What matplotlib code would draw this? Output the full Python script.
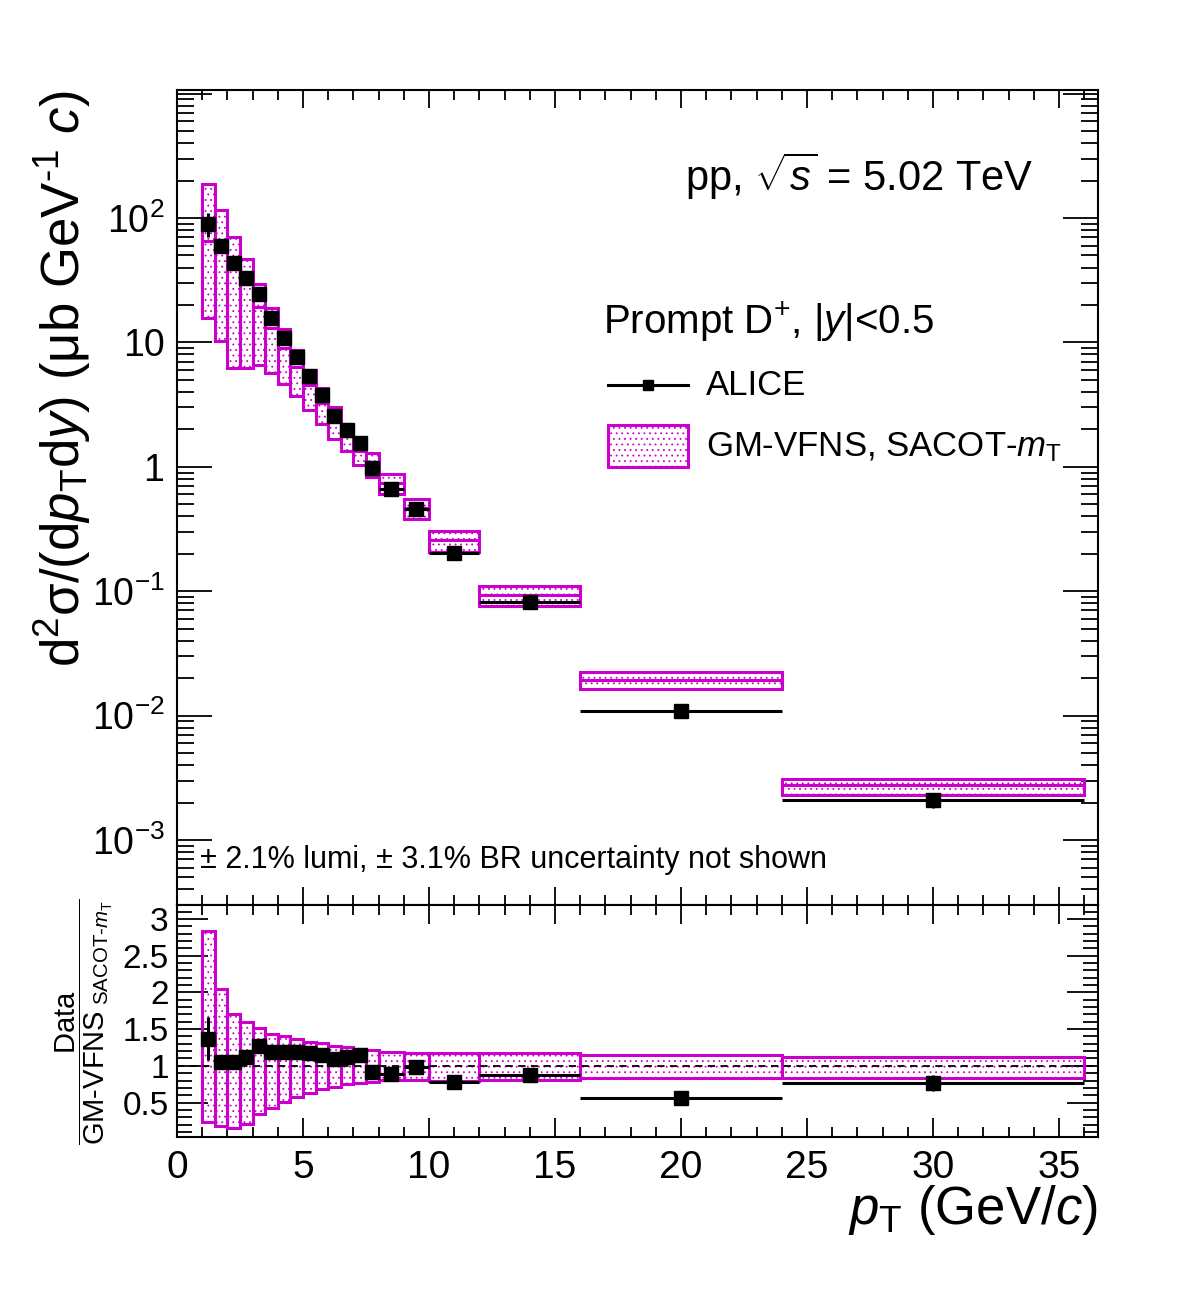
import matplotlib
matplotlib.use('Agg')  # no display
import numpy as np
import matplotlib.pyplot as plt
from matplotlib.ticker import FixedLocator, FixedFormatter, MultipleLocator, LogLocator, NullFormatter
from matplotlib.patches import Rectangle

# pT bins (GeV/c)
pt_lo = [1, 1.5, 2, 2.5, 3, 3.5, 4, 4.5, 5, 5.5, 6, 6.5, 7, 7.5, 8, 9, 10, 12, 16, 24]
pt_hi = [1.5, 2, 2.5, 3, 3.5, 4, 4.5, 5, 5.5, 6, 6.5, 7, 7.5, 8, 9, 10, 12, 16, 24, 36]

# ALICE prompt D+ cross section (ub GeV^-1 c) and stat. errors
alice_xsec = [90, 60, 43.7, 33, 24.5, 15.6, 10.8, 7.6, 5.37, 3.76, 2.58, 1.99, 1.55,
              0.98, 0.66, 0.458, 0.203, 0.0819, 0.0109, 0.0021]
alice_stat = [19, 3, 2, 1.5, 1.1, 0.7, 0.45, 0.3, 0.2, 0.14, 0.1, 0.08, 0.06,
              0.05, 0.03, 0.02, 0.009, 0.004, 0.0006, 0.0003]

# GM-VFNS (SACOT-mT) central value and relative band (upper / lower)
gmvfns_central = [65.7, 57, 41.6, 29.5, 19.3, 13.1, 9.1, 6.4, 4.55, 3.27, 2.37, 1.78, 1.35,
                  1.065, 0.74, 0.467, 0.26, 0.094, 0.0195, 0.00276]
gmvfns_rel_up = [2.84, 2.04, 1.70, 1.59, 1.52, 1.44, 1.40, 1.37, 1.33, 1.31, 1.27, 1.25, 1.23,
                 1.21, 1.19, 1.18, 1.18, 1.17, 1.15, 1.12]
gmvfns_rel_lo = [0.24, 0.18, 0.15, 0.21, 0.34, 0.43, 0.51, 0.58, 0.63, 0.68, 0.71, 0.75, 0.77,
                 0.78, 0.81, 0.81, 0.80, 0.81, 0.84, 0.84]

# tick labels
x_ticks = [0, 5, 10, 15, 20, 25, 30, 35]
y_ticks = [1e-3, 1e-2, 1e-1, 1, 10, 100, 1000]
y_tick_labels = [r'$10^{-3}$', r'$10^{-2}$', r'$10^{-1}$', '1', '10', r'$10^{2}$', '']
ratio_ticks = [0.5, 1, 1.5, 2, 2.5, 3]
ratio_tick_labels = ['0.5', '1', '1.5', '2', '2.5', '3']

magenta = '#cc00cc'

plt.rcParams['font.family'] = ['Liberation Sans', 'DejaVu Sans']
plt.rcParams['mathtext.fontset'] = 'custom'
plt.rcParams['mathtext.rm'] = 'Liberation Sans'
plt.rcParams['mathtext.it'] = 'Liberation Sans:italic'
plt.rcParams['mathtext.bf'] = 'Liberation Sans:bold'
plt.rcParams['hatch.linewidth'] = 0.6
plt.rcParams['axes.linewidth'] = 1.5

lo = np.array(pt_lo)
hi = np.array(pt_hi)
ctr = 0.5 * (lo + hi)
wid = hi - lo
data = np.array(alice_xsec)
stat = np.array(alice_stat)
th = np.array(gmvfns_central)
rup = np.array(gmvfns_rel_up)
rlo = np.array(gmvfns_rel_lo)

fig = plt.figure(figsize=(11.82, 12.94), dpi=100)
ax = fig.add_axes([0.1497, 0.3006, 0.7792, 0.6298])
axr = fig.add_axes([0.1497, 0.1213, 0.7792, 0.1793])

# --- upper panel: cross section ---
ax.bar(lo, th * rup - th * rlo, bottom=th * rlo, width=wid, align='edge',
       facecolor='none', edgecolor=magenta, hatch='...', linewidth=2.2, zorder=2)
ax.hlines(th, lo, hi, color=magenta, lw=2.2, zorder=2)
ax.errorbar(ctr, data, xerr=wid / 2, yerr=stat, fmt='s', color='k', ms=10,
            lw=2.2, capsize=0, zorder=4)

ax.set_yscale('log')
ax.set_xlim(0, 36.55)
ax.set_ylim(3.0e-4, 1069)
ax.yaxis.set_major_locator(FixedLocator(y_ticks))
ax.yaxis.set_major_formatter(FixedFormatter(y_tick_labels))
ax.yaxis.set_minor_locator(LogLocator(base=10, subs=np.arange(2, 10), numticks=30))
ax.yaxis.set_minor_formatter(NullFormatter())
ax.xaxis.set_major_locator(FixedLocator(x_ticks))
ax.xaxis.set_minor_locator(MultipleLocator(1))
ax.tick_params(which='both', direction='in', top=True, right=True, width=1.3)
ax.tick_params(axis='y', which='major', length=25, labelsize=27, pad=9)
ax.tick_params(axis='y', which='minor', length=12)
ax.tick_params(axis='x', which='major', length=13, labelbottom=False)
ax.tick_params(axis='x', which='minor', length=7)

ax.text(0.5516, 0.8945, r'pp, $\sqrt{s}$ = 5.02 TeV', transform=ax.transAxes,
        fontsize=30, va='center', ha='left')
ax.text(0.4625, 0.7153, r'Prompt D$^{+}$, |$y$|<0.5', transform=ax.transAxes,
        fontsize=29, va='center', ha='left')
ax.plot([0.468, 0.555], [0.638, 0.638], transform=ax.transAxes, color='k', lw=2.2)
ax.plot([0.5115], [0.638], 's', ms=7, color='k', transform=ax.transAxes)
ax.text(0.5744, 0.638, 'ALICE', transform=ax.transAxes, fontsize=25, va='center', ha='left')
ax.add_patch(Rectangle((0.468, 0.5374), 0.087, 0.0516, transform=ax.transAxes,
                       facecolor='none', edgecolor=magenta, hatch='...', lw=2.2))
ax.text(0.5744, 0.562, r'GM-VFNS, SACOT-$m_{\rm T}$', transform=ax.transAxes,
        fontsize=25, va='center', ha='left')
ax.text(0.025, 0.0552, '± 2.1% lumi, ± 3.1% BR uncertainty not shown',
        transform=ax.transAxes, fontsize=22, va='center', ha='left')

# --- lower panel: ratio ---
axr.bar(lo, rup - rlo, bottom=rlo, width=wid, align='edge',
        facecolor='none', edgecolor=magenta, hatch='...', linewidth=2.2, zorder=2)
axr.axhline(1, color='k', lw=1.3, ls=(0, (4, 3)), zorder=3)
axr.errorbar(ctr, data / th, xerr=wid / 2, yerr=stat / th, fmt='s', color='k', ms=10,
             lw=2.2, capsize=0, zorder=4)
axr.set_xlim(0, 36.55)
axr.set_ylim(0.03, 3.19)
axr.yaxis.set_major_locator(FixedLocator(ratio_ticks))
axr.yaxis.set_major_formatter(FixedFormatter(ratio_tick_labels))
axr.yaxis.set_minor_locator(MultipleLocator(0.1))
axr.xaxis.set_major_locator(FixedLocator(x_ticks))
axr.xaxis.set_minor_locator(MultipleLocator(1))
axr.tick_params(which='both', direction='in', top=True, right=True, width=1.3)
axr.tick_params(axis='y', which='major', length=22, labelsize=24, pad=6)
axr.tick_params(axis='y', which='minor', length=11)
axr.tick_params(axis='x', which='major', length=14, labelsize=28, pad=9)
axr.tick_params(axis='x', which='minor', length=7)

# axis titles
fig.text(62 / 1182, 1 - 90 / 1294,
         r'd$^{2}$σ/(d$p_{\rm T}$d$y$) (μb GeV$^{\text{-1}}$ $c$)',
         rotation=90, fontsize=38, ha='center', va='top')
fig.text(1098 / 1182, 1 - 1210 / 1294, r'$p_{\rm T}$ (GeV/$c$)',
         fontsize=38, ha='right', va='center')
fig.text(84 / 1182, 1 - 1022 / 1294,
         r'$\dfrac{\mathrm{Data}}{\text{GM-VFNS}_{\ \text{SACOT-}m_{\mathrm{T}}}}$',
         rotation=90, fontsize=21, ha='center', va='center')

fig.savefig('out.png', dpi=100)
plt.close(fig)
